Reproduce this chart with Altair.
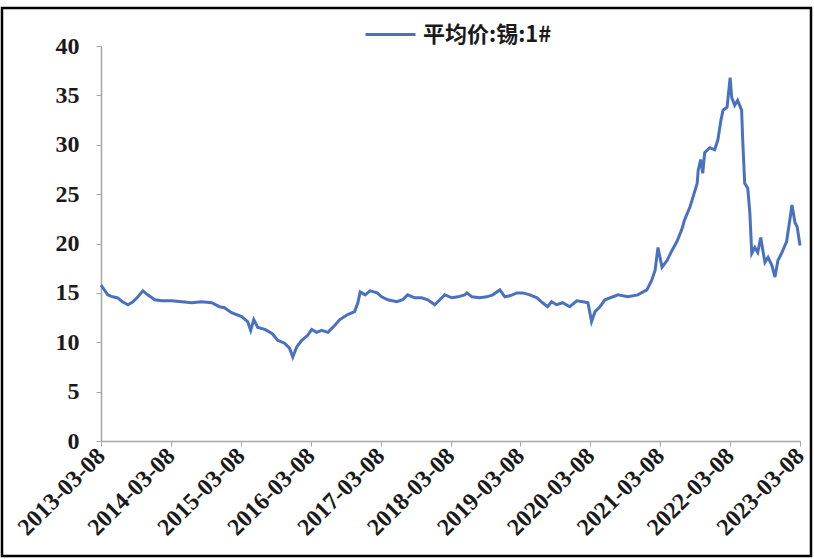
import altair as alt
import pandas as pd

series_name = "平均价:锡:1#"

dates = [
    "2013-03-08", "2013-04-12", "2013-05-08", "2013-06-03", "2013-06-28", "2013-07-27",
    "2013-08-22", "2013-09-17", "2013-10-13", "2013-11-07", "2013-12-14", "2014-01-19",
    "2014-03-13", "2014-05-04", "2014-06-25", "2014-08-15", "2014-10-07", "2014-11-17",
    "2014-12-13", "2015-01-19", "2015-03-13", "2015-04-13", "2015-04-29", "2015-05-15",
    "2015-06-05", "2015-07-12", "2015-08-18", "2015-09-17", "2015-10-23", "2015-11-18",
    "2015-12-05", "2015-12-25", "2016-01-21", "2016-02-21", "2016-03-13", "2016-04-08",
    "2016-05-04", "2016-06-05", "2016-07-01", "2016-08-07", "2016-09-17", "2016-10-23",
    "2016-11-09", "2016-11-21", "2016-12-17", "2017-01-12", "2017-02-18", "2017-03-13",
    "2017-04-15", "2017-05-31", "2017-07-01", "2017-07-27", "2017-09-02", "2017-10-08",
    "2017-11-09", "2017-12-16", "2018-01-11", "2018-02-06", "2018-03-15", "2018-04-15",
    "2018-05-21", "2018-06-02", "2018-06-28", "2018-08-08", "2018-09-13", "2018-10-15",
    "2018-11-21", "2018-12-17", "2019-01-12", "2019-02-18", "2019-03-21", "2019-04-27",
    "2019-06-03", "2019-07-02", "2019-07-28", "2019-08-18", "2019-09-13", "2019-10-15",
    "2019-11-21", "2019-12-28", "2020-01-29", "2020-02-24", "2020-03-14", "2020-04-01",
    "2020-04-27", "2020-05-23", "2020-07-30", "2020-09-20", "2020-11-10", "2020-12-28",
    "2021-01-23", "2021-02-09", "2021-02-24", "2021-03-17", "2021-04-13", "2021-05-08",
    "2021-06-03", "2021-06-28", "2021-07-13", "2021-08-10", "2021-08-26", "2021-09-17",
    "2021-09-22", "2021-10-05", "2021-10-16", "2021-10-26", "2021-11-21", "2021-12-17",
    "2022-01-03", "2022-01-19", "2022-01-30", "2022-02-20", "2022-03-08", "2022-03-16",
    "2022-04-01", "2022-04-16", "2022-05-07", "2022-05-12", "2022-05-23", "2022-06-08",
    "2022-06-19", "2022-06-29", "2022-07-15", "2022-07-30", "2022-08-15", "2022-08-26",
    "2022-09-06", "2022-09-22", "2022-10-12", "2022-10-28", "2022-11-13", "2022-12-04",
    "2022-12-28", "2023-01-14", "2023-01-25", "2023-02-10", "2023-02-21", "2023-03-08",
]

prices = [
    15.8, 14.8, 14.6, 14.5, 14.1, 13.8,
    14.1, 14.6, 15.2, 14.8, 14.3, 14.2,
    14.2, 14.1, 14.0, 14.1, 14.0, 13.6,
    13.5, 13.0, 12.6, 12.1, 11.2, 12.3,
    11.5, 11.3, 10.9, 10.2, 9.9, 9.4,
    8.5, 9.5, 10.2, 10.7, 11.3, 11.0,
    11.2, 11.0, 11.5, 12.3, 12.8, 13.1,
    14.0, 15.1, 14.8, 15.2, 15.0, 14.6,
    14.3, 14.1, 14.3, 14.8, 14.5, 14.5,
    14.3, 13.8, 14.3, 14.8, 14.5, 14.6,
    14.8, 15.0, 14.6, 14.5, 14.6, 14.8,
    15.3, 14.6, 14.7, 15.0, 15.0, 14.8,
    14.5, 14.0, 13.6, 14.1, 13.8, 14.0,
    13.6, 14.2, 14.1, 14.0, 12.1, 13.1,
    13.6, 14.3, 14.8, 14.6, 14.8, 15.3,
    16.3, 17.3, 19.6, 17.6, 18.3, 19.3,
    20.2, 21.4, 22.4, 23.7, 24.7, 26.1,
    27.4, 28.5, 27.1, 29.2, 29.7, 29.5,
    30.5, 32.5, 33.5, 33.8, 36.8, 34.8,
    34.0, 34.5, 33.5, 30.8, 26.1, 25.6,
    23.1, 19.0, 19.6, 19.1, 20.6, 19.3,
    18.1, 18.6, 17.8, 16.6, 18.3, 19.1,
    20.2, 22.4, 23.9, 22.1, 21.7, 19.8,
]

tick_years = list(range(2013, 2024))
y_ticks = [0, 5, 10, 15, 20, 25, 30, 35, 40]

df = pd.DataFrame({
    "date": pd.to_datetime(dates),
    "price": prices,
    "series": series_name,
})

label_font = "Liberation Serif"

line = alt.Chart(df).mark_line(strokeWidth=3, color="#4A70C2").encode(
    x=alt.X(
        "date:T",
        scale=alt.Scale(domain=[alt.DateTime(year=2013, month=3, date=8),
                                alt.DateTime(year=2023, month=3, date=8)]),
        axis=alt.Axis(
            values=[alt.DateTime(year=y, month=3, date=8) for y in tick_years],
            format="%Y-%m-%d",
            labelAngle=-45,
            labelAlign="right",
            labelBaseline="middle",
            labelFont=label_font,
            labelFontSize=24,
            labelFontWeight="bold",
            labelColor="#1a1a1a",
            labelPadding=6,
            labelOverlap=False,
            labelFlush=False,
            title=None,
            grid=False,
            domainColor="#a6a6a6",
            domainWidth=1.5,
            tickColor="#a6a6a6",
            tickSize=5,
        ),
    ),
    y=alt.Y(
        "price:Q",
        scale=alt.Scale(domain=[0, 40], nice=False),
        axis=alt.Axis(
            values=y_ticks,
            labelFont=label_font,
            labelFontSize=24,
            labelFontWeight="bold",
            labelColor="#1a1a1a",
            labelPadding=17,
            title=None,
            grid=False,
            domainColor="#a6a6a6",
            domainWidth=1.5,
            tickColor="#a6a6a6",
            tickSize=5,
        ),
    ),
    color=alt.Color(
        "series:N",
        scale=alt.Scale(range=["#4A70C2"]),
        legend=alt.Legend(
            orient="none",
            legendX=263,
            legendY=-38,
            title=None,
            symbolType="stroke",
            symbolSize=2500,
            symbolStrokeWidth=3,
            labelFont="Noto Sans CJK SC",
            labelFontSize=22,
            labelFontWeight="bold",
            labelColor="#1a1a1a",
            labelOffset=6,
            padding=0,
        ),
    ),
)

frame = alt.Chart(pd.DataFrame({"k": [0]})).mark_rect(
    fillOpacity=0, stroke="black", strokeWidth=2.5
).encode(
    x=alt.value(-99), x2=alt.value(710), y=alt.value(-38), y2=alt.value(510)
)

chart = alt.layer(line, frame).properties(
    width=699,
    height=395,
    autosize=alt.AutoSizeParams(type="none"),
    padding={"left": 101, "top": 46, "right": 14, "bottom": 118},
    background="white",
).configure_view(stroke=None)

chart.save("out.html", embed_options={"renderer": "svg", "actions": False})
